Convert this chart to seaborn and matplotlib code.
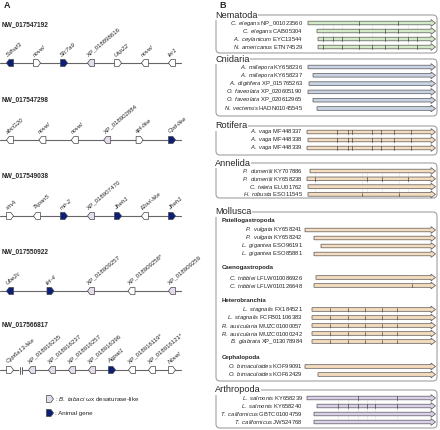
import numpy as np
import matplotlib.pyplot as plt
import seaborn as sns
from matplotlib.patches import Polygon, FancyBboxPatch

sns.set_style("white")
plt.rcParams["font.family"] = ["Liberation Sans", "DejaVu Sans"]
plt.rcParams["mathtext.fontset"] = "custom"
plt.rcParams["mathtext.rm"] = "Liberation Sans"
plt.rcParams["mathtext.it"] = "Liberation Sans:italic"
plt.rcParams["mathtext.bf"] = "Liberation Sans:bold"

# ---------------------------------------------------------------------------
# Panel A data: contigs, genes, strand and gene type
# n = other gene, x = B. tabaci wx desaturase-like, b = animal gene
# ---------------------------------------------------------------------------
contig_ids = ["NW_017547192", "NW_017547298", "NW_017549038", "NW_017550922", "NW_017566817"]
contig_genes = [
    ["Sdhaf3", "novel", "Slc7a9", "XP_018898616", "Usp22", "novel", "Ier1"],
    ["abcG20", "novel", "novel", "XP_018902884", "apl-like", "Cpd-like"],
    ["stnA", "Tspan5", "mir-2", "XP_018907470", "Jheh1", "Elovl-like", "Jheh1"],
    ["Ube2c", "let-4", "XP_018909257", "XP_018909258*", "XP_018909259"],
    ["Cyp6a13-like", "XP_018916235", "XP_018916237", "XP_018916257", "XP_018916396",
     "Agpat1", "XP_018916119*", "XP_018916121*", "Novel"],
]
contig_strands = ["-++-+--", "----++", "+-+-+-+", "-+---", "+----+--+"]
contig_kinds = ["bnbxnnn", "nnnxnb", "nnbxbnb", "bbxnx", "nxxxxbnnn"]
contig_break_after = [None, None, None, None, 0]

kind_colors = {"n": "white", "x": "#e4dcec", "b": "#0b1f7a"}

# ---------------------------------------------------------------------------
# Panel B data: gene models per group (start of CDS and intron positions)
# ---------------------------------------------------------------------------
nema_species = ["C. elegans", "C. elegans", "A. ceylanicum", "N. americanus"]
nema_acc = ["NP_001023560", "CAB05304", "EYC13544", "ETN74529"]
nema_start = [308, 317, 318, 318]
nema_introns = [[359, 398], [359, 385, 398],
                [323, 333, 342, 359, 385, 398, 408, 417],
                [323, 342, 359, 372, 385, 398, 417]]

cnid_species = ["A. millepora", "A. millepora", "A. digitifera", "O. faveolata", "O. faveolata", "N. vectensis"]
cnid_acc = ["KY658236", "KY658237", "XP_015765263", "XP_020605190", "XP_020612965", "HADN01045545"]
cnid_start = [308, 313, 309, 308, 313, 317]
cnid_introns = [[], [], [], [], [], []]

roti_species = ["A. vaga", "A. vaga", "A. vaga"]
roti_acc = ["MF448337", "MF448338", "MF448339"]
roti_start = [307, 308, 307]
roti_introns = [[337, 348, 352, 372, 381, 394, 411]] * 3

anne_species = ["P. dumerilii", "P. dumerilii", "C. teleta", "H. robusta"]
anne_acc = ["KY707886", "KY658238", "ELU01762", "ESO11545"]
anne_start = [310, 307, 308, 308]
anne_introns = [[], [315, 367, 382, 408], [], [362, 399]]

pate_species = ["P. vulgata", "P. vulgata", "L. gigantea", "L. gigantea"]
pate_acc = ["KY658241", "KY658242", "ESO96191", "ESO85881"]
pate_start = [305, 314, 321, 314]
pate_introns = [[], [], [], []]

caeno_species = ["C. tribblei", "C. tribblei"]
caeno_acc = ["LFLW010086926", "LFLW010126648"]
caeno_start = [316, 314]
caeno_introns = [[], [412]]

hetero_species = ["L. stagnalis", "L. stagnalis", "R. auricularia", "R. auricularia", "B. glabrata"]
hetero_acc = ["FX184521", "FCFB01106383", "MUZC01000057", "MUZC01000242", "XP_013078984"]
hetero_start = [312, 312, 312, 312, 312]
hetero_introns = [[330, 348, 365, 382, 397]] * 5

ceph_species = ["O. bimaculoides", "O. bimaculoides"]
ceph_acc = ["KOF99091", "KOF62429"]
ceph_start = [305, 318]
ceph_introns = [[], []]

arth_species = ["L. salmonis", "L. salmonis", "T. californicus", "T. californicus"]
arth_acc = ["KY658239", "KY658240", "GBTC01004759", "JW524768"]
arth_start = [307, 317, 314, 314]
arth_introns = [[358, 397], [338, 348, 358, 367, 375, 397], [], []]

# ---------------------------------------------------------------------------
# Figure: one axes in pixel units
# ---------------------------------------------------------------------------
fig = plt.figure(figsize=(4.4, 4.3), dpi=100)
ax = fig.add_axes([0, 0, 1, 1])
ax.set_xlim(0, 440)
ax.set_ylim(430, 0)
ax.axis("off")

ax.text(4, 6, "A", fontsize=6.5, fontweight="bold", va="center")
ax.text(219, 5, "B", fontsize=6.5, fontweight="bold", va="center")


def gene_glyph(x, y, strand, color, r=3.5):
    d = 1 if strand == "+" else -1
    pts = [(x - d * r, y - r), (x + d * 0.9, y - r), (x + d * r, y),
           (x + d * 0.9, y + r), (x - d * r, y + r)]
    ax.add_patch(Polygon(pts, closed=True, fc=color, ec="#444444", lw=0.5, zorder=3))


# --- Panel A ---------------------------------------------------------------
row_y = [63, 140, 216, 291, 370]
label_y = [25, 100, 176, 252, 325]
x_first, x_last = 10, 172

for cid, genes, strands, kinds, brk, y, ly in zip(contig_ids, contig_genes, contig_strands,
                                                  contig_kinds, contig_break_after, row_y, label_y):
    ax.text(2, ly, cid, fontsize=4.7, fontweight="bold", va="center")
    ax.plot([0, 181], [y, y], color="#666666", lw=0.8, zorder=1)
    if brk is None:
        xs = np.linspace(x_first, x_last, len(genes))
    else:
        xs = np.concatenate([[x_first], np.linspace(x_first + 22, x_last, len(genes) - 1)])
        bx = (xs[0] + xs[1]) / 2
        ax.plot([bx - 1.2, bx + 1.2], [y, y], color="white", lw=1.5, zorder=2)
        for dx in (-1.2, 1.2):
            ax.plot([bx + dx, bx + dx], [y - 3.5, y + 3.5], color="#444444", lw=0.6, zorder=2)
    for x, g, s, k in zip(xs, genes, strands, kinds):
        gene_glyph(x, y, s, kind_colors[k])
        style = "normal" if g.startswith("XP_") else "italic"
        ax.text(x - 1.5, y - 5.5, g, fontsize=4.4, style=style, rotation=40,
                rotation_mode="anchor", ha="left", va="bottom")

gene_glyph(50, 399, "+", kind_colors["x"])
ax.text(55, 399, r": $\mathit{B.\ tabaci}$ ωx desaturase-like", fontsize=4.5, va="center")
gene_glyph(50, 413, "+", kind_colors["b"])
ax.text(55, 413, ": Animal gene", fontsize=4.5, va="center")

# --- Panel B ---------------------------------------------------------------
box_left, box_right = 216, 437
label_x = 303
bar_end = 431


def gene_model(y, start, introns, color):
    h, hh = 1.8, 3.4
    pts = [(start, y - h), (bar_end, y - h), (bar_end, y - hh), (bar_end + 4.5, y),
           (bar_end, y + hh), (bar_end, y + h), (start, y + h)]
    ax.add_patch(Polygon(pts, closed=True, fc=color, ec="#555555", lw=0.5, zorder=3))
    for ix in introns:
        ax.plot([ix, ix], [y - h, y + h], color="#444444", lw=0.5, zorder=4)


def draw_rows(ys, species, acc, starts, introns, color):
    all_int = sorted(set(i for row in introns for i in row))
    for ix in all_int:
        ax.plot([ix, ix], [ys[0], ys[-1]], color="#e0e0e0", lw=0.4, zorder=2)
    for y, sp, ac, st, intr in zip(ys, species, acc, starts, introns):
        sp_tex = sp.replace(" ", r"\ ")
        ax.text(label_x, y, rf"$\mathit{{{sp_tex}}}$ {ac}", fontsize=4.2,
                ha="right", va="center")
        gene_model(y, st, intr, color)


def group_box(title, top, bottom):
    ax.add_patch(FancyBboxPatch((box_left, top), box_right - box_left, bottom - top,
                                boxstyle="round,pad=0,rounding_size=4",
                                fc="none", ec="#a0a0a0", lw=0.8, zorder=1))
    ax.text(box_left - 1, top, title, fontsize=6.6, va="center", ha="left", zorder=5,
            bbox=dict(fc="white", ec="none", pad=0.2))


def rows_from(y0, n, step=8.0):
    return [y0 + i * step for i in range(n)]


group_box("Nematoda", 15, 53)
draw_rows(rows_from(23, 4), nema_species, nema_acc, nema_start, nema_introns, "#d3eac6")

group_box("Cnidaria", 59, 116)
draw_rows(rows_from(67, 6, 8.3), cnid_species, cnid_acc, cnid_start, cnid_introns, "#c9d3e3")

group_box("Rotifera", 126, 155)
draw_rows(rows_from(132, 3), roti_species, roti_acc, roti_start, roti_introns, "#f6dcbf")

group_box("Annelida", 163, 198)
draw_rows(rows_from(171, 4, 7.8), anne_species, anne_acc, anne_start, anne_introns, "#f6dcbf")

group_box("Mollusca", 212, 381)
sub_titles = ["Patellogastropoda", "Caenogastropoda", "Heterobranchia", "Cephalopoda"]
sub_y = [220.5, 268, 300, 357]
ax_subs = [
    (pate_species, pate_acc, pate_start, pate_introns),
    (caeno_species, caeno_acc, caeno_start, caeno_introns),
    (hetero_species, hetero_acc, hetero_start, hetero_introns),
    (ceph_species, ceph_acc, ceph_start, ceph_introns),
]
for t, ty, (sp, ac, st, intr) in zip(sub_titles, sub_y, ax_subs):
    ax.text(222, ty, t, fontsize=4.4, fontweight="bold", va="center", zorder=6)
    draw_rows(rows_from(ty + 9.5, len(sp)), sp, ac, st, intr, "#f6dcbf")

group_box("Arthropoda", 390, 428)
draw_rows(rows_from(398, 4), arth_species, arth_acc, arth_start, arth_introns, "#d9d0ea")

fig.savefig("out.png", dpi=100)
